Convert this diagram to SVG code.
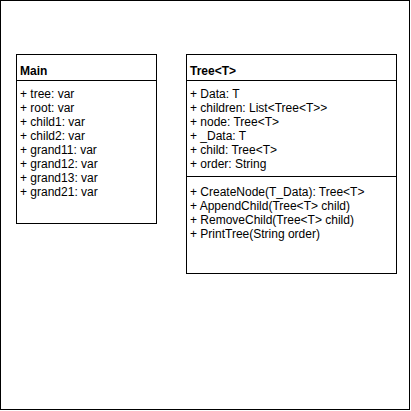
<svg xmlns="http://www.w3.org/2000/svg" width="411" height="411" viewBox="0 0 411 411">
<style>
.box{fill:#fff;stroke:#000;stroke-width:1}
.ln{stroke:#000;stroke-width:1;fill:none}
text{font-family:"Liberation Sans",Arial,Helvetica,sans-serif;font-size:12px;fill:#000}
.t{font-weight:bold}
</style>
<rect x="0.5" y="0.5" width="409" height="409" fill="#fff" stroke="#000"/>
<g id="main">
<rect class="box" x="16.5" y="54.5" width="140" height="169"/>
<line class="ln" x1="16.5" y1="80.5" x2="156.5" y2="80.5"/>
<text class="t" x="20" y="75">Main</text>
<text x="20" y="97.5">+ tree: var</text>
<text x="20" y="111.5">+ root: var</text>
<text x="20" y="125.5">+ child1: var</text>
<text x="20" y="139.5">+ child2: var</text>
<text x="20" y="153.5">+ grand11: var</text>
<text x="20" y="167.5">+ grand12: var</text>
<text x="20" y="181.5">+ grand13: var</text>
<text x="20" y="195.5">+ grand21: var</text>
</g>
<g id="tree">
<rect class="box" x="186.5" y="54.5" width="210" height="219"/>
<line class="ln" x1="186.5" y1="80.5" x2="396.5" y2="80.5"/>
<line class="ln" x1="186.5" y1="176.5" x2="396.5" y2="176.5"/>
<text class="t" x="190" y="75">Tree&lt;T&gt;</text>
<text x="190" y="97.5">+ Data: T</text>
<text x="190" y="111.5">+ children: List&lt;Tree&lt;T&gt;&gt;</text>
<text x="190" y="125.5">+ node: Tree&lt;T&gt;</text>
<text x="190" y="139.5">+ _Data: T</text>
<text x="190" y="153.5">+ child: Tree&lt;T&gt;</text>
<text x="190" y="167.5">+ order: String</text>
<text x="190" y="196">+ CreateNode(T_Data): Tree&lt;T&gt;</text>
<text x="190" y="210">+ AppendChild(Tree&lt;T&gt; child)</text>
<text x="190" y="224">+ RemoveChild(Tree&lt;T&gt; child)</text>
<text x="190" y="238">+ PrintTree(String order)</text>
</g>
<g id="connectors"></g>
</svg>
